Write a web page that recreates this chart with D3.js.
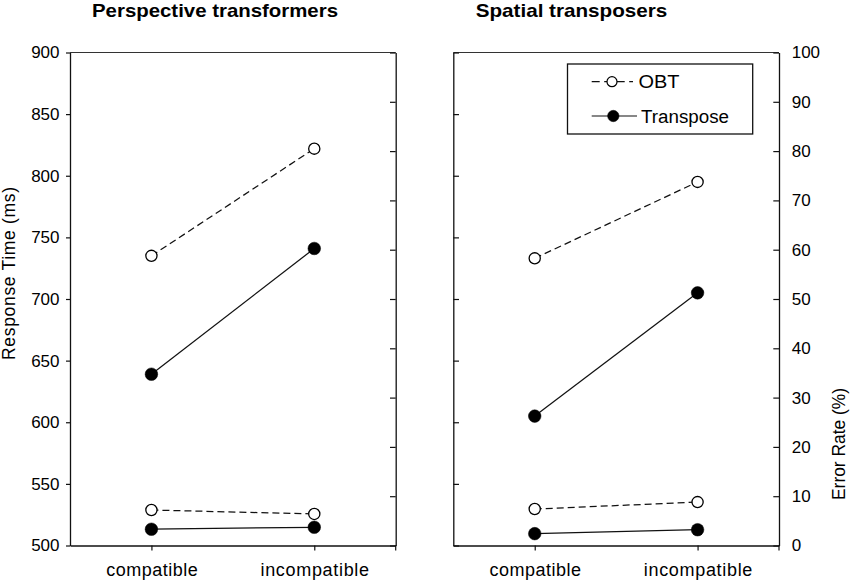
<!DOCTYPE html>
<html><head><meta charset="utf-8">
<script src="https://cdn.jsdelivr.net/npm/d3@7"></script>
<style>
body{margin:0;background:#fff}
svg{display:block}
text{font-family:"Liberation Sans",Arial,sans-serif;fill:#000}
</style>
</head><body>
<svg id="c" width="850" height="581"></svg>
<script>
// ---------- data ----------
const categories = ["compatible", "incompatible"];
const panelTitles = ["Perspective transformers", "Spatial transposers"];
const seriesNames = ["OBT", "Transpose"];
const rtTicks = [500, 550, 600, 650, 700, 750, 800, 850, 900];
const errTicks = [0, 10, 20, 30, 40, 50, 60, 70, 80, 90, 100];
const rtLabel = "Response Time (ms)";
const errLabel = "Error Rate (%)";

// Perspective transformers
const perspRT_OBT = [735, 822];
const perspRT_Transpose = [639, 741];
const perspErr_OBT = [7.2, 6.4];
const perspErr_Transpose = [3.3, 3.7];
// Spatial transposers
const spatialRT_OBT = [733, 795];
const spatialRT_Transpose = [605, 705];
const spatialErr_OBT = [7.4, 8.8];
const spatialErr_Transpose = [2.4, 3.2];

// ---------- layout ----------
const svg = d3.select("#c");
const yTop = 52.5, yBottom = 545.5;
const yRT = d3.scaleLinear().domain([500, 900]).range([yBottom, yTop]);
const yErr = d3.scaleLinear().domain([0, 100]).range([yBottom, yTop]);
const panels = [
  {x0: 70, x1: 395.7, title: panelTitles[0], titleX: 92, titleLen: 246,
   rt: [perspRT_OBT, perspRT_Transpose], err: [perspErr_OBT, perspErr_Transpose]},
  {x0: 453.3, x1: 779, title: panelTitles[1], titleX: 475.7, titleLen: 191.6,
   rt: [spatialRT_OBT, spatialRT_Transpose], err: [spatialErr_OBT, spatialErr_Transpose]}
];
const catLabelLen = {compatible: 91.5, incompatible: 108.6};
const FS = 17;

function styleAxis(g) {
  g.selectAll("path.domain").attr("stroke", "#111").attr("stroke-width", 1.3);
  g.selectAll(".tick line").attr("stroke", "#111").attr("stroke-width", 1.2);
  g.selectAll("text").attr("font-size", FS).attr("font-family", '"Liberation Sans",Arial,sans-serif').attr("fill", "#000");
}

panels.forEach((p, pi) => {
  const x = d3.scalePoint().domain(categories).range([p.x0, p.x1]).padding(0.5);
  const g = svg.append("g");

  // top border
  g.append("line").attr("x1", p.x0).attr("x2", p.x1).attr("y1", yTop).attr("y2", yTop)
    .attr("stroke", "#333").attr("stroke-width", 1.2);

  // left side
  if (pi === 0) {
    const ax = d3.axisLeft(yRT).tickValues(rtTicks).tickSizeInner(4).tickSizeOuter(0).tickPadding(6.5);
    g.append("g").attr("transform", `translate(${p.x0},0)`).call(ax).call(styleAxis);
  } else {
    const ax = d3.axisRight(yRT).tickValues(rtTicks).tickSizeInner(5.7).tickSizeOuter(0).tickFormat("");
    g.append("g").attr("transform", `translate(${p.x0},0)`).call(ax).call(styleAxis);
  }
  // right side
  if (pi === 0) {
    const ax = d3.axisLeft(yErr).tickValues(errTicks).tickSizeInner(5.7).tickSizeOuter(0).tickFormat("");
    g.append("g").attr("transform", `translate(${p.x1},0)`).call(ax).call(styleAxis);
  } else {
    const ax = d3.axisRight(yErr).tickValues(errTicks).tickSizeInner(-5.7).tickSizeOuter(0).tickPadding(12.7);
    g.append("g").attr("transform", `translate(${p.x1},0)`).call(ax).call(styleAxis);
  }
  // bottom axis
  const bx = d3.axisBottom(x).tickSizeInner(5).tickSizeOuter(0).tickPadding(13);
  const bg = g.append("g").attr("transform", `translate(0,${yBottom})`).call(bx).call(styleAxis);
  bg.selectAll(".tick text").attr("font-size", 18)
    .attr("textLength", d => catLabelLen[d]).attr("lengthAdjust", "spacing");
  // right-end tick on the bottom axis
  bg.append("line").attr("x1", x.range()[1]).attr("x2", x.range()[1]).attr("y1", 0).attr("y2", 5)
    .attr("stroke", "#111").attr("stroke-width", 1.2);

  // title
  svg.append("text").attr("x", p.titleX).attr("y", 17).attr("font-size", 18.5).attr("font-weight", "bold")
    .attr("textLength", p.titleLen).attr("lengthAdjust", "spacingAndGlyphs").text(p.title);

  // series
  const groups = [
    {vals: p.rt[0], y: yRT, dash: "7,4", filled: false},
    {vals: p.rt[1], y: yRT, dash: null, filled: true},
    {vals: p.err[0], y: yErr, dash: "7,4", filled: false},
    {vals: p.err[1], y: yErr, dash: null, filled: true}
  ];
  groups.forEach(s => {
    const pts = s.vals.map((v, i) => [x(categories[i]), s.y(v)]);
    g.append("path").attr("d", d3.line()(pts)).attr("fill", "none")
      .attr("stroke", "#111").attr("stroke-width", 1.25)
      .attr("stroke-dasharray", s.dash);
    g.selectAll(null).data(pts).enter().append("circle")
      .attr("cx", d => d[0]).attr("cy", d => d[1])
      .attr("r", s.filled ? 6.3 : 5.6)
      .attr("fill", s.filled ? "#000" : "#fff")
      .attr("stroke", "#000").attr("stroke-width", s.filled ? 0.5 : 1.3);
  });
});

// axis titles
svg.append("text").attr("transform", "translate(14.5,273.5) rotate(-90)")
  .attr("text-anchor", "middle").attr("font-size", 17.5)
  .attr("textLength", 173).attr("lengthAdjust", "spacing").text(rtLabel);
svg.append("text").attr("transform", "translate(845,444) rotate(-90)")
  .attr("text-anchor", "middle").attr("font-size", 17.5)
  .attr("textLength", 112).attr("lengthAdjust", "spacingAndGlyphs").text(errLabel);

// legend
const lg = svg.append("g");
lg.append("rect").attr("x", 567.5).attr("y", 64).attr("width", 185.2).attr("height", 70)
  .attr("fill", "#fff").attr("stroke", "#111").attr("stroke-width", 1.3);
const legendRows = [
  {name: seriesNames[0], y: 81.7, dash: "8,4.5", filled: false, cx: 612, x2: 633, tx: 638.5, tl: 41},
  {name: seriesNames[1], y: 116, dash: null, filled: true, cx: 613.3, x2: 637, tx: 641, tl: 88}
];
legendRows.forEach(r => {
  lg.append("line").attr("x1", 591.7).attr("x2", r.x2).attr("y1", r.y).attr("y2", r.y)
    .attr("stroke", "#111").attr("stroke-width", 1.2).attr("stroke-dasharray", r.dash);
  lg.append("circle").attr("cx", r.cx).attr("cy", r.y).attr("r", r.filled ? 5.7 : 5)
    .attr("fill", r.filled ? "#000" : "#fff").attr("stroke", "#000").attr("stroke-width", r.filled ? 0.5 : 1.2);
  lg.append("text").attr("x", r.tx).attr("y", r.y + 6.5).attr("font-size", 18)
    .attr("textLength", r.tl).attr("lengthAdjust", "spacingAndGlyphs").text(r.name);
});
</script>
</body></html>
